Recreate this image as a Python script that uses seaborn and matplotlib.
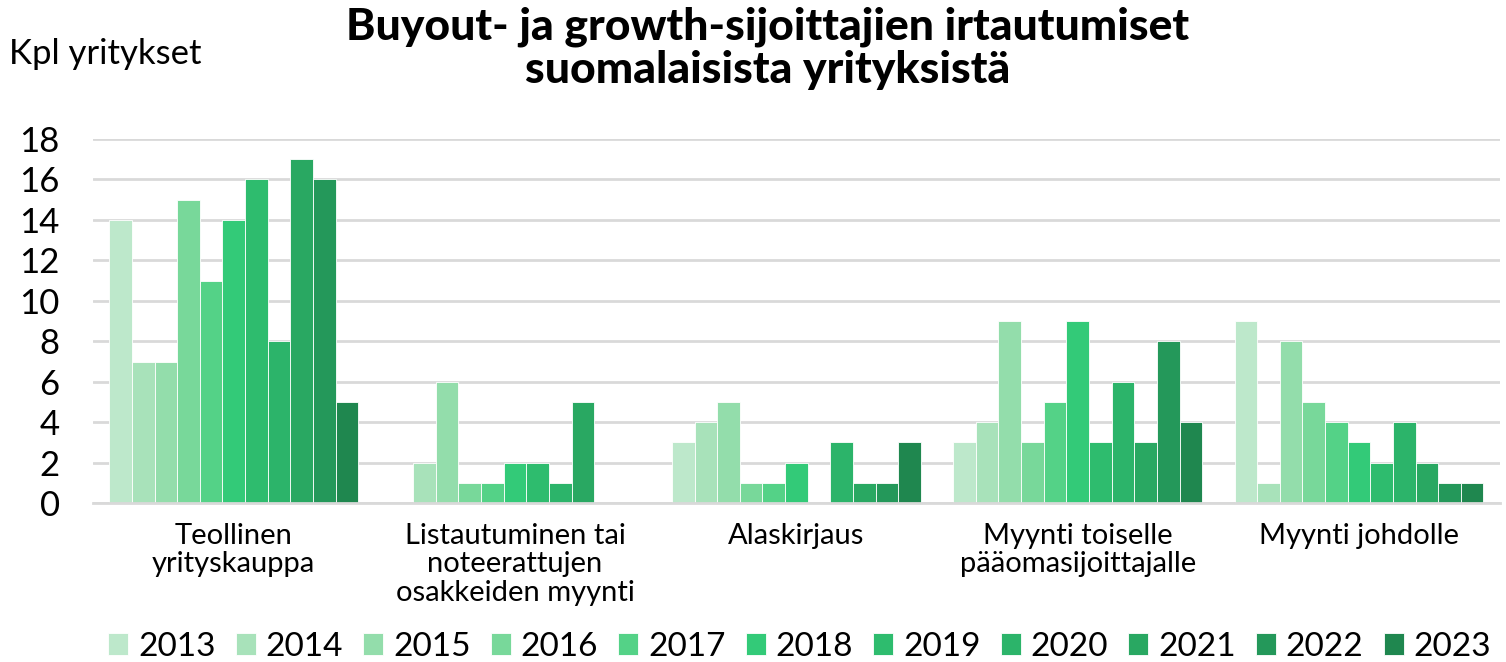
import matplotlib
matplotlib.use("Agg")
import matplotlib.pyplot as plt
import pandas as pd
import seaborn as sns

categories = ["Teollinen\nyrityskauppa", "Listautuminen tai\nnoteerattujen\nosakkeiden myynti",
              "Alaskirjaus", "Myynti toiselle\npääomasijoittajalle", "Myynti johdolle"]
years = ["2013", "2014", "2015", "2016", "2017", "2018", "2019", "2020", "2021", "2022", "2023"]

teollinen = [14, 7, 7, 15, 11, 14, 16, 8, 17, 16, 5]
listautuminen = [0, 2, 6, 1, 1, 2, 2, 1, 5, 0, 0]
alaskirjaus = [3, 4, 5, 1, 1, 2, 0, 3, 1, 1, 3]
myynti_toiselle = [3, 4, 9, 3, 5, 9, 3, 6, 3, 8, 4]
myynti_johdolle = [9, 1, 8, 5, 4, 3, 2, 4, 2, 1, 1]

colors = ["#BDE8CB", "#A8E2BA", "#93DDAB", "#78D89A", "#54D287", "#33CA78",
          "#2EBC6E", "#2CB46A", "#29A862", "#24985A", "#1F874F"]

rows = []
for cat, vals in zip(categories, [teollinen, listautuminen, alaskirjaus, myynti_toiselle, myynti_johdolle]):
    for yr, v in zip(years, vals):
        rows.append({"Kategoria": cat, "Vuosi": yr, "Kpl": v})
df = pd.DataFrame(rows)

sns.set_style("white")
plt.rcParams["font.family"] = ["Lato", "DejaVu Sans"]
plt.rcParams["text.color"] = "black"
plt.rcParams["xtick.color"] = "black"
plt.rcParams["ytick.color"] = "black"

fig = plt.figure(figsize=(15.06, 6.62), dpi=100)
ax = fig.add_axes([0.0618, 0.24, 0.934, 0.55])

sns.barplot(data=df, x="Kategoria", y="Kpl", hue="Vuosi", order=categories, hue_order=years,
            palette=colors, saturation=1, width=0.885, gap=0, edgecolor="white", linewidth=0.6,
            errorbar=None, ax=ax, legend=True)

ax.set_ylim(0, 18)
ax.set_yticks(range(0, 19, 2))
ax.yaxis.grid(True, color="#D9D9D9", linewidth=2)
ax.set_axisbelow(True)
for s in ["left", "right", "top"]:
    ax.spines[s].set_visible(False)
ax.spines["bottom"].set_color("#D9D9D9")
ax.spines["bottom"].set_linewidth(2)
ax.set_xlabel("")
ax.set_ylabel("")
ax.tick_params(axis="y", labelsize=25, length=0, pad=24)
ax.tick_params(axis="x", labelsize=21, length=0, pad=14)
for t in ax.get_xticklabels():
    t.set_linespacing(1.12)

handles, labels = ax.get_legend_handles_labels()
ax.get_legend().remove()
fig.legend(handles, labels, loc="lower center", bbox_to_anchor=(0.531, -0.045), ncol=11, frameon=False,
           fontsize=24, handlelength=0.6, handleheight=0.6, handletextpad=0.3, columnspacing=0.6)

fig.text(0.51, 0.99, "Buyout- ja growth-sijoittajien irtautumiset\nsuomalaisista yrityksistä",
         ha="center", va="top", fontsize=32, fontweight="black", linespacing=1.1)
fig.text(0.006, 0.918, "Kpl yritykset", ha="left", va="center", fontsize=25)

fig.savefig("out.png", dpi=100)
